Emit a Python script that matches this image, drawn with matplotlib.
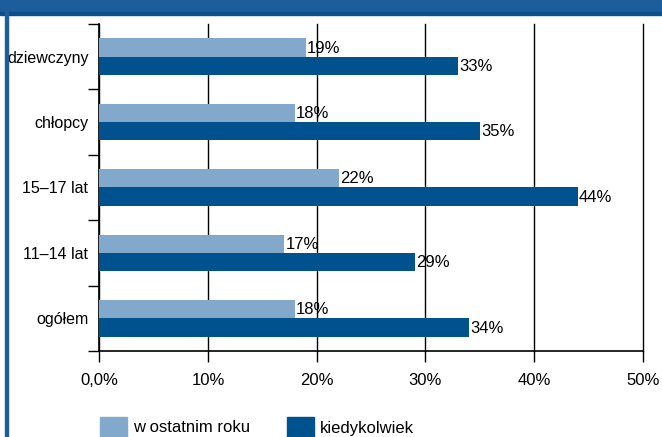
import numpy as np
import matplotlib.pyplot as plt
from matplotlib.patches import Rectangle
from matplotlib.ticker import FixedLocator

plt.rcParams['font.family'] = ['Liberation Sans', 'DejaVu Sans']

categories = ['dziewczyny', 'chłopcy', '15–17 lat', '11–14 lat', 'ogółem']
last_year = [19, 18, 22, 17, 18]
ever = [33, 35, 44, 29, 34]
series_names = ['w ostatnim roku', 'kiedykolwiek']
xtick_labels = ['0,0%', '10%', '20%', '30%', '40%', '50%']

light = '#82a9cb'
dark = '#00528f'
frame = '#1b5e9b'
fs = 12

fig = plt.figure(figsize=(6.62, 4.37), dpi=100)
ax = fig.add_axes([0.1503, 0.197, 0.8207, 0.748])

y = np.arange(len(categories))
h = 0.28
ax.barh(y - 0.14, last_year, height=h, color=light, zorder=3)
ax.barh(y + 0.14, ever, height=h, color=dark, zorder=3)

for yi, v in zip(y, last_year):
    ax.text(v + 0.1, yi - 0.13, f'{v}%', va='center', ha='left', fontsize=fs, zorder=4)
for yi, v in zip(y, ever):
    ax.text(v + 0.1, yi + 0.15, f'{v}%', va='center', ha='left', fontsize=fs, zorder=4)

ax.set_xlim(0, 50)
ax.set_ylim(len(categories) - 0.5, -0.5)
ax.set_xticks(np.arange(0, 51, 10))
ax.set_xticklabels(xtick_labels, fontsize=fs)
ax.set_yticks(y)
ax.set_yticklabels(categories, fontsize=11.5)
ax.tick_params(axis='y', which='major', length=0, pad=8)
ax.yaxis.set_minor_locator(FixedLocator(np.arange(-0.5, len(categories), 1.0)))
ax.tick_params(axis='y', which='minor', length=8, width=1, color='black')
ax.tick_params(axis='x', length=8, width=1, color='black', pad=8)
ax.grid(axis='x', color='black', linewidth=1, zorder=1)
for gl in ax.get_xgridlines():
    gl.set_clip_on(False)
for s in ['top', 'right']:
    ax.spines[s].set_visible(False)
for s in ['left', 'bottom']:
    ax.spines[s].set_linewidth(1.2)

# frame decoration
fig.patches.append(Rectangle((0, 1 - 12 / 437), 1, 12 / 437, transform=fig.transFigure,
                             color=frame, zorder=0))
fig.patches.append(Rectangle((0, 1 - 15 / 437), 1, 3 / 437, transform=fig.transFigure,
                             color='#0b4f8c', zorder=0))
fig.patches.append(Rectangle((5 / 662, 0), 3 / 662, 1, transform=fig.transFigure,
                             color=frame, zorder=0))

# legend
fig.patches.append(Rectangle((100 / 662, 0), 27 / 662, 20 / 437, transform=fig.transFigure,
                             color=light))
fig.text(133 / 662, 9 / 437, series_names[0], fontsize=fs, va='center', ha='left')
fig.patches.append(Rectangle((287 / 662, 0), 27 / 662, 20 / 437, transform=fig.transFigure,
                             color=dark))
fig.text(320 / 662, 9 / 437, series_names[1], fontsize=fs, va='center', ha='left')

fig.savefig('out.png', dpi=100)
